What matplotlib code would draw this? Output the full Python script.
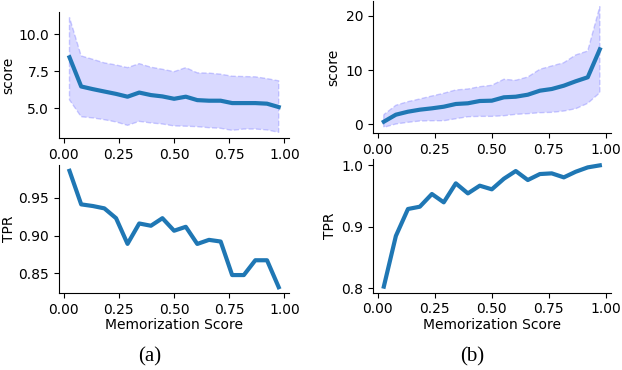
import matplotlib
matplotlib.use("Agg")
import matplotlib.pyplot as plt

x = [0.026, 0.079, 0.132, 0.184, 0.237, 0.289, 0.342, 0.395, 0.447, 0.500,
     0.553, 0.605, 0.658, 0.711, 0.763, 0.816, 0.868, 0.921, 0.974]

# panel (a)
score_a_mean = [8.45, 6.48, 6.30, 6.14, 5.98, 5.79, 6.07, 5.90, 5.81, 5.65,
                5.79, 5.56, 5.52, 5.52, 5.36, 5.36, 5.36, 5.32, 5.09]
score_a_upper = [11.13, 8.54, 8.31, 8.07, 7.93, 7.75, 8.02, 7.78, 7.64, 7.48,
                 7.75, 7.40, 7.38, 7.31, 7.17, 7.15, 7.13, 7.01, 6.86]
score_a_lower = [5.58, 4.44, 4.36, 4.24, 4.09, 3.86, 4.13, 4.02, 3.95, 3.82,
                 3.80, 3.77, 3.70, 3.66, 3.52, 3.61, 3.61, 3.55, 3.39]
tpr_a = [0.9858, 0.9414, 0.9392, 0.9361, 0.9231, 0.8891, 0.9161, 0.9131, 0.9231, 0.9065,
         0.9117, 0.8890, 0.8944, 0.8922, 0.8478, 0.8478, 0.8674, 0.8674, 0.8317]

# panel (b)
score_b_mean = [0.48, 1.77, 2.32, 2.69, 2.94, 3.24, 3.74, 3.87, 4.29, 4.35,
                4.97, 5.08, 5.45, 6.19, 6.50, 7.11, 7.92, 8.66, 13.81]
score_b_upper = [1.77, 3.50, 4.17, 4.66, 5.21, 5.71, 6.32, 6.50, 6.92, 7.18,
                 8.29, 8.10, 8.71, 10.13, 10.74, 11.34, 12.76, 13.50, 21.66]
score_b_lower = [-0.55, 0.06, 0.37, 0.61, 0.66, 0.66, 1.03, 1.40, 1.46, 1.46,
                 1.58, 1.84, 1.96, 2.14, 2.20, 2.45, 2.87, 3.87, 5.82]
tpr_b = [0.8028, 0.8850, 0.9287, 0.9324, 0.9530, 0.9395, 0.9703, 0.9540, 0.9665, 0.9606,
         0.9778, 0.9903, 0.9757, 0.9854, 0.9865, 0.9800, 0.9891, 0.9962, 0.9995]

xticks = [0.0, 0.25, 0.5, 0.75, 1.0]
xticklabels = ["0.00", "0.25", "0.50", "0.75", "1.00"]

LINE = "#1f77b4"
FS = 10

fig = plt.figure(figsize=(6.22, 3.70), dpi=100)

ax_a1 = fig.add_axes([0.0949, 0.627, 0.370, 0.341])
ax_a2 = fig.add_axes([0.0949, 0.208, 0.370, 0.346])
ax_b1 = fig.add_axes([0.5997, 0.6397, 0.382, 0.3585])
ax_b2 = fig.add_axes([0.5997, 0.209, 0.382, 0.3605])

def style(ax):
    for s in ("top", "right"):
        ax.spines[s].set_visible(False)
    ax.tick_params(labelsize=FS)
    ax.set_xticks(xticks)
    ax.set_xticklabels(xticklabels)

def band(ax, lo, hi, mean):
    ax.fill_between(x, lo, hi, facecolor=(0.0, 0.0, 1.0, 0.15),
                    edgecolor=(0.5, 0.5, 1.0, 0.4), linestyle="--", linewidth=1.0)
    ax.plot(x, mean, color=LINE, linewidth=3.0)

band(ax_a1, score_a_lower, score_a_upper, score_a_mean)
ax_a1.set_yticks([5.0, 7.5, 10.0])
ax_a1.set_ylabel("score", fontsize=FS, labelpad=2)
style(ax_a1)

ax_a2.plot(x, tpr_a, color=LINE, linewidth=3.0)
ax_a2.set_yticks([0.85, 0.90, 0.95])
ax_a2.set_ylabel("TPR", fontsize=FS, labelpad=2)
ax_a2.set_xlabel("Memorization Score", fontsize=FS, labelpad=1)
style(ax_a2)

band(ax_b1, score_b_lower, score_b_upper, score_b_mean)
ax_b1.set_yticks([0, 10, 20])
ax_b1.set_ylabel("score", fontsize=FS)
style(ax_b1)

ax_b2.plot(x, tpr_b, color=LINE, linewidth=3.0)
ax_b2.set_yticks([0.8, 0.9, 1.0])
ax_b2.set_ylabel("TPR", fontsize=FS, labelpad=3)
ax_b2.set_xlabel("Memorization Score", fontsize=FS, labelpad=1)
style(ax_b2)

fig.text(150 / 622, 1 - 357 / 370, "(a)", ha="center", va="center",
         fontsize=15, family="Liberation Serif")
fig.text(472 / 622, 1 - 357 / 370, "(b)", ha="center", va="center",
         fontsize=15, family="Liberation Serif")

fig.savefig("out.png", dpi=100)
